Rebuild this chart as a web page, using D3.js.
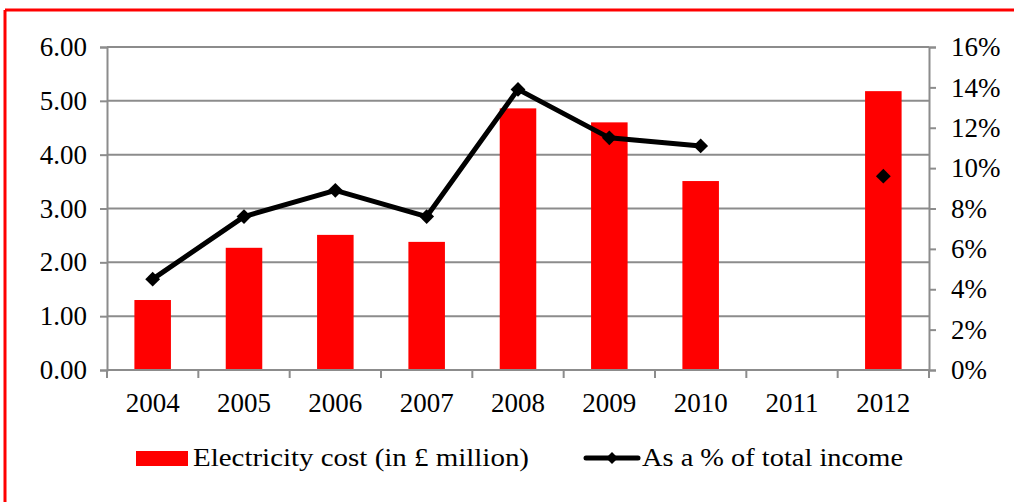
<!DOCTYPE html>
<html>
<head>
<meta charset="utf-8">
<script src="https://cdn.jsdelivr.net/npm/d3@7"></script>
<style>
  body { margin: 0; background: #fff; }
  text { font-family: "Liberation Serif", "DejaVu Serif", serif; fill: #000; }
</style>
</head>
<body>
<div id="chart"></div>
<script>
// chart data
var years = ["2004", "2005", "2006", "2007", "2008", "2009", "2010", "2011", "2012"];
var cost = [1.30, 2.27, 2.51, 2.38, 4.86, 4.60, 3.51, null, 5.18];
var share = [4.5, 7.6, 8.9, 7.6, 13.9, 11.5, 11.1, null, 9.6];
var leftTicks = [0, 1, 2, 3, 4, 5, 6];
var rightTicks = [0, 2, 4, 6, 8, 10, 12, 14, 16];

var width = 1014, height = 502;
var margin = { left: 107, right: 929, top: 47, bottom: 370 };

var svg = d3.select("#chart").append("svg")
  .attr("width", width)
  .attr("height", height);

// red frame (only top and left edges show)
svg.append("line").attr("x1", 5).attr("x2", width).attr("y1", 10).attr("y2", 10)
  .style("stroke", "#ff0000").style("stroke-width", 3);
svg.append("line").attr("x1", 5).attr("x2", 5).attr("y1", 10).attr("y2", height)
  .style("stroke", "#ff0000").style("stroke-width", 3);

var x = d3.scaleBand()
  .domain(years)
  .range([margin.left, margin.right])
  .paddingInner(0.6)
  .paddingOuter(0.3);

var xTick = d3.scaleBand().domain(years).range([margin.left, margin.right]);

var y = d3.scaleLinear().domain([0, 6]).range([margin.bottom, margin.top]);
var y2 = d3.scaleLinear().domain([0, 16]).range([margin.bottom, margin.top]);

// gridlines
svg.append("g").selectAll("line")
  .data(leftTicks.slice(1))
  .enter().append("line")
  .attr("x1", margin.left).attr("x2", margin.right)
  .attr("y1", function(d) { return y(d); })
  .attr("y2", function(d) { return y(d); })
  .style("stroke", "#8c8c8c").style("stroke-width", 2);

// bars
svg.append("g").selectAll("rect")
  .data(years.map(function(yr, i) { return { year: yr, value: cost[i] }; })
    .filter(function(d) { return d.value != null; }))
  .enter().append("rect")
  .attr("x", function(d) { return x(d.year); })
  .attr("width", x.bandwidth())
  .attr("y", function(d) { return y(d.value); })
  .attr("height", function(d) { return y(0) - y(d.value); })
  .style("fill", "#ff0000");

// left axis
var leftAxis = svg.append("g")
  .attr("transform", "translate(" + margin.left + ",0)")
  .call(d3.axisLeft(y).tickValues(leftTicks).tickFormat(d3.format(".2f")).tickSizeOuter(0).tickSize(7).tickPadding(13));

// right axis
var rightAxis = svg.append("g")
  .attr("transform", "translate(" + margin.right + ",0)")
  .call(d3.axisRight(y2).tickValues(rightTicks).tickFormat(function(d) { return d + "%"; }).tickSizeOuter(0).tickSize(7).tickPadding(15));

// bottom axis
var bottomAxis = svg.append("g")
  .attr("transform", "translate(0," + margin.bottom + ")")
  .call(d3.axisBottom(xTick).tickSizeOuter(0).tickSize(0).tickPadding(23));

// category separator ticks
bottomAxis.selectAll(".sep")
  .data(years.concat(["end"]))
  .enter().append("line")
  .attr("class", "sep")
  .attr("x1", function(d, i) { return margin.left + i * xTick.step(); })
  .attr("x2", function(d, i) { return margin.left + i * xTick.step(); })
  .attr("y1", 0).attr("y2", 8)
  .style("stroke", "#8c8c8c").style("stroke-width", 2);

[leftAxis, rightAxis, bottomAxis].forEach(function(g) {
  g.attr("font-size", 27).attr("font-family", "Liberation Serif");
  g.select(".domain").style("stroke", "#8c8c8c").style("stroke-width", 2);
  g.selectAll(".tick line").style("stroke", "#8c8c8c").style("stroke-width", 2);
  g.selectAll(".tick text").attr("fill", "#000");
});
bottomAxis.select(".domain").attr("d", "M" + margin.left + ",0H" + margin.right);

// line series
var pts = years.map(function(yr, i) { return { year: yr, value: share[i] }; });
var line = d3.line()
  .defined(function(d) { return d.value != null; })
  .x(function(d) { return xTick(d.year) + xTick.bandwidth() / 2; })
  .y(function(d) { return y2(d.value); });

svg.append("path")
  .datum(pts)
  .attr("d", line)
  .style("fill", "none")
  .style("stroke", "#000")
  .style("stroke-width", 5)
  .style("stroke-linejoin", "round");

var diamond = d3.symbol().type(d3.symbolDiamond2).size(140);
svg.append("g").selectAll("path")
  .data(pts.filter(function(d) { return d.value != null; }))
  .enter().append("path")
  .attr("d", diamond)
  .attr("transform", function(d) {
    return "translate(" + (xTick(d.year) + xTick.bandwidth() / 2) + "," + y2(d.value) + ")";
  })
  .style("fill", "#000");

// legend
var legend = svg.append("g");
legend.append("rect")
  .attr("x", 136).attr("y", 451).attr("width", 52).attr("height", 15)
  .style("fill", "#ff0000");
legend.append("text")
  .attr("x", 193).attr("y", 466)
  .style("font-size", "26px")
  .attr("textLength", 336).attr("lengthAdjust", "spacingAndGlyphs")
  .text("Electricity cost (in £ million)");

legend.append("line")
  .attr("x1", 586).attr("x2", 638).attr("y1", 458).attr("y2", 458)
  .style("stroke", "#000").style("stroke-width", 5).style("stroke-linecap", "round");
legend.append("path")
  .attr("d", d3.symbol().type(d3.symbolDiamond2).size(90))
  .attr("transform", "translate(612,458)")
  .style("fill", "#000");
legend.append("text")
  .attr("x", 642).attr("y", 466)
  .style("font-size", "26px")
  .attr("textLength", 261).attr("lengthAdjust", "spacingAndGlyphs")
  .text("As a % of total income");
</script>
</body>
</html>
